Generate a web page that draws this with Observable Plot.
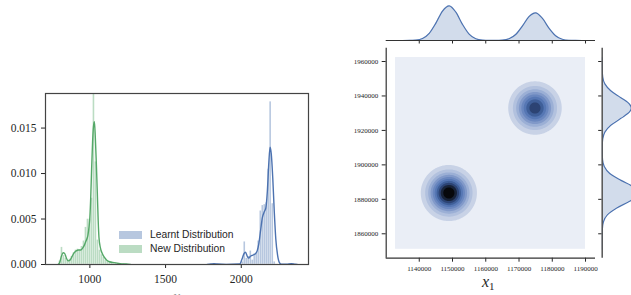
<!DOCTYPE html>
<html><head><meta charset="utf-8">
<script src="https://cdn.jsdelivr.net/npm/d3@7"></script>
<script src="https://cdn.jsdelivr.net/npm/@observablehq/plot@0.6"></script>
<style>
html,body{margin:0;padding:0;background:#fff;overflow:hidden;}
#root{position:relative;width:631px;height:295px;overflow:hidden;background:#fff;}
#root svg{position:absolute;top:0;left:0;overflow:visible;}
.sw{position:absolute;width:23px;height:8px;}
.lt{position:absolute;font-family:"Liberation Sans",sans-serif;font-size:10.3px;color:#262626;line-height:1;white-space:nowrap;}
.xlab{position:absolute;font-family:"Liberation Serif",serif;color:#262626;font-size:16px;line-height:1;white-space:nowrap;}
.xlab sub{font-size:11px;font-style:normal;vertical-align:-3px;}
</style></head>
<body><div id="root"></div>
<script>
// ---------- Left panel: histograms + KDE ----------
const leftXTicks = [1000, 1500, 2000];
const leftYTicks = [0, 0.005, 0.010, 0.015];
const binWidth = 13.2;

const newBinCenters = [802.6, 815.8, 829, 842.2, 855.4, 868.6, 881.8, 895, 908.2, 921.4, 934.6, 947.8, 961, 974.2, 987.4, 1000.6, 1013.8, 1027, 1040.2, 1053.4, 1066.6, 1079.8, 1093, 1106.2, 1119.4, 1132.6, 1145.8, 1159, 1172.2, 1185.4, 1198.6, 1211.8, 1225];
const newBinDensity = [0.0004, 0.0019, 0.0010, 0.0007, 0.0005, 0.0006, 0.0009, 0.0013, 0.0016, 0.0017, 0.0016, 0.0020, 0.0026, 0.0041, 0.0050, 0.0050, 0.0073, 0.0195, 0.0113, 0.0027, 0.0016, 0.0011, 0.0008, 0.0005, 0.0004, 0.0003, 0.0002, 0.0001, 0.0002, 0.0001, 0.0001, 0.0001, 0.0001];

const learntBinCenters = [1820, 1833, 2010, 2023, 2036, 2049, 2063, 2076, 2089, 2102, 2115, 2129, 2142, 2155, 2168, 2181, 2194, 2208, 2221, 2337];
const learntBinDensity = [0.0001, 0.0001, 0.0003, 0.0025, 0.0007, 0.0009, 0.0015, 0.0005, 0.0012, 0.0012, 0.0026, 0.0059, 0.0065, 0.0066, 0.0068, 0.0105, 0.0179, 0.0067, 0.0003, 0.0001];

const newKdeX = [790, 800, 812, 824, 834, 845, 857, 870, 883, 897, 910, 925, 940, 952, 963, 975, 987, 995, 1000, 1006, 1011, 1018, 1024, 1030, 1036, 1043, 1049, 1055, 1060, 1070, 1082, 1095, 1110, 1130, 1160, 1200, 1240, 1268];
const newKdeY = [0, 0.0002, 0.0009, 0.0013, 0.0012, 0.0007, 0.0004, 0.0005, 0.0009, 0.0013, 0.0015, 0.0016, 0.0016, 0.0018, 0.0021, 0.0026, 0.0032, 0.0042, 0.0052, 0.0075, 0.0102, 0.0135, 0.0152, 0.0157, 0.0140, 0.0110, 0.0080, 0.0048, 0.0030, 0.0018, 0.0012, 0.0008, 0.0005, 0.0003, 0.0002, 0.0001, 0.00005, 0];

const learntKdeX = [1775, 1800, 1820, 1840, 1900, 1990, 2005, 2018, 2028, 2040, 2050, 2060, 2072, 2085, 2095, 2105, 2116, 2128, 2140, 2152, 2162, 2172, 2182, 2190, 2198, 2208, 2218, 2228, 2240, 2252, 2265, 2300, 2330, 2355, 2370];
const learntKdeY = [0, 0.00005, 0.0001, 0.00005, 0, 0.00005, 0.0006, 0.0012, 0.00135, 0.0009, 0.0007, 0.0009, 0.0010, 0.0011, 0.0012, 0.0015, 0.0023, 0.0038, 0.0052, 0.0058, 0.0062, 0.0080, 0.0112, 0.0129, 0.0122, 0.0095, 0.0058, 0.0028, 0.0010, 0.0002, 0.00003, 0.00003, 0.0001, 0.00003, 0];

// ---------- Right panel: joint KDE ----------
const jointXTicks = [1140000, 1150000, 1160000, 1170000, 1180000, 1190000];
const jointYTicks = [1860000, 1880000, 1900000, 1920000, 1940000, 1960000];
const blobX = [1148900, 1174800];
const blobY = [1883660, 1933000];
const blobWeight = [1, 0.80];
const blobSigmaX = [3855, 3855];
const blobSigmaY = [7430, 7430];
const gridX = [1132870, 1190000];
const gridY = [1851000, 1962300];
const kdeLevels = [1/11, 2/11, 3/11, 4/11, 5/11, 6/11, 7/11, 8/11, 9/11, 10/11];
const kdeColors = ["#c8d2e6", "#b2c1de", "#9bafd5", "#8199c9", "#6a87bf", "#5677b4", "#3f5f99", "#2c4373", "#182338", "#07080b"];

const topMargX = [1133000, 1135000, 1137000, 1139000, 1141000, 1143000, 1145000, 1147000, 1149000, 1151000, 1153000, 1155000, 1157000, 1159000, 1161000, 1163000, 1165000, 1167000, 1169000, 1171000, 1173000, 1175000, 1177000, 1179000, 1181000, 1183000, 1185000, 1187000, 1189000, 1190000];
const topMargD = [0, 0.0002, 0.0016, 0.0115, 0.058, 0.205, 0.50, 0.848, 1.0, 0.818, 0.465, 0.184, 0.050, 0.010, 0.0014, 0.0014, 0.010, 0.050, 0.173, 0.414, 0.690, 0.799, 0.642, 0.358, 0.139, 0.037, 0.007, 0.0009, 0.0001, 0];

const rightMargY = [1851000, 1855000, 1859000, 1863000, 1867000, 1871000, 1875000, 1879000, 1883000, 1887000, 1891000, 1895000, 1899000, 1903000, 1907000, 1911000, 1915000, 1919000, 1923000, 1927000, 1931000, 1933000, 1935000, 1939000, 1943000, 1947000, 1951000, 1955000, 1959000, 1962300];
const rightMargD = [0, 0, 0.0006, 0.0055, 0.034, 0.141, 0.400, 0.767, 0.995, 0.873, 0.518, 0.208, 0.057, 0.0104, 0.0015, 0.0023, 0.0153, 0.073, 0.236, 0.515, 0.762, 0.80, 0.762, 0.515, 0.236, 0.073, 0.0153, 0.0022, 0.0002, 0];

// ---------- build ----------
const root = document.getElementById("root");
const ink = "#262626";
const blue = "#4c72b0", green = "#55a868";

const newBars = newBinCenters.map((c, i) => ({x1: c - binWidth / 2, x2: c + binWidth / 2, y: newBinDensity[i]}));
const learntBars = learntBinCenters.map((c, i) => ({x1: c - binWidth / 2, x2: c + binWidth / 2, y: learntBinDensity[i]}));
const newKde = newKdeX.map((x, i) => ({x, y: newKdeY[i]}));
const learntKde = learntKdeX.map((x, i) => ({x, y: learntKdeY[i]}));

const left = Plot.plot({
  width: 320, height: 295,
  marginLeft: 45, marginRight: 12, marginTop: 93, marginBottom: 31,
  style: {background: "transparent", fontFamily: "Liberation Serif, serif", fontSize: "11.5px", color: ink},
  x: {domain: [707, 2444], ticks: leftXTicks, tickSize: 4, tickPadding: 6, tickFormat: d => String(d), label: null},
  y: {domain: [0, 0.0188], ticks: leftYTicks, tickSize: 4, tickPadding: 5, tickFormat: d3.format(".3f"), label: null},
  marks: [
    Plot.rect(learntBars, {x1: "x1", x2: "x2", y1: 0, y2: "y", fill: blue, fillOpacity: 0.4, inset: 0.2, clip: true}),
    Plot.rect(newBars, {x1: "x1", x2: "x2", y1: 0, y2: "y", fill: green, fillOpacity: 0.4, inset: 0.2, clip: true}),
    Plot.line(learntKde, {x: "x", y: "y", stroke: blue, strokeWidth: 1.4, curve: "monotone-x", clip: true}),
    Plot.line(newKde, {x: "x", y: "y", stroke: green, strokeWidth: 1.4, curve: "monotone-x", clip: true}),
    Plot.frame({stroke: "#444", strokeWidth: 1.2})
  ]
});
root.appendChild(left);

const jx = [1130060, 1193000], jy = [1845830, 1967720];
// bivariate KDE surface from the two fitted components (centres, spreads, weights above)
const kde = (x, y) => d3.sum(blobX, (cx, i) => blobWeight[i] * Math.exp(
  -((x - cx) ** 2) / (2 * blobSigmaX[i] ** 2) - ((y - blobY[i]) ** 2) / (2 * blobSigmaY[i] ** 2)));

const main = Plot.plot({
  width: 631, height: 295,
  marginLeft: 385.7, marginRight: 36, marginTop: 47.7, marginBottom: 37.3,
  style: {background: "transparent", fontFamily: "Liberation Serif, serif", fontSize: "7px", color: ink},
  x: {domain: jx, ticks: jointXTicks, tickSize: 4, tickPadding: 4, tickFormat: d => String(d), label: null},
  y: {domain: jy, ticks: jointYTicks, tickSize: 4, tickPadding: 4, tickFormat: d => String(d), label: null},
  color: {type: "linear", domain: [kdeLevels[0], kdeLevels[kdeLevels.length - 1]], interpolate: d3.piecewise(d3.interpolateRgb, kdeColors)},
  marks: [
    Plot.rect([{x1: gridX[0], x2: gridX[1], y1: gridY[0], y2: gridY[1]}], {x1: "x1", x2: "x2", y1: "y1", y2: "y2", fill: "#eaeef6"}),
    Plot.contour({value: kde, x1: gridX[0], x2: gridX[1], y1: gridY[0], y2: gridY[1], thresholds: kdeLevels, fill: "value", stroke: "none", pixelSize: 1}),
    Plot.ruleX([jx[0]], {stroke: "#333", strokeWidth: 1.2}),
    Plot.ruleY([jy[0]], {stroke: "#333", strokeWidth: 1.2})
  ]
});
root.appendChild(main);

const topMarg = topMargX.map((x, i) => ({x, d: topMargD[i]}));
const topPlot = Plot.plot({
  width: 631, height: 50,
  marginLeft: 385.7, marginRight: 36, marginTop: 0, marginBottom: 10,
  style: {background: "transparent", color: ink},
  x: {domain: jx, ticks: jointXTicks, tickSize: 3.5, tickFormat: () => "", label: null},
  y: {domain: [0, 1.153], axis: null},
  marks: [
    Plot.areaY(topMarg, {x: "x", y: "d", fill: blue, fillOpacity: 0.25, curve: "monotone-x"}),
    Plot.lineY(topMarg, {x: "x", y: "d", stroke: blue, strokeWidth: 1.2, curve: "monotone-x"}),
    Plot.ruleY([0], {stroke: "#333", strokeWidth: 1.2})
  ]
});
root.appendChild(topPlot);

const rightMarg = rightMargY.map((y, i) => ({y, d: rightMargD[i]}));
const rightPlot = Plot.plot({
  width: 631, height: 295,
  marginLeft: 601.7, marginRight: 0, marginTop: 47.7, marginBottom: 37.3,
  style: {background: "transparent", color: ink},
  x: {domain: [0, 0.807], axis: null},
  y: {domain: jy, ticks: jointYTicks, tickSize: 3.5, tickFormat: () => "", label: null},
  marks: [
    Plot.areaX(rightMarg, {y: "y", x: "d", fill: blue, fillOpacity: 0.25, curve: "monotone-y", clip: true}),
    Plot.lineX(rightMarg, {y: "y", x: "d", stroke: blue, strokeWidth: 1.2, curve: "monotone-y", clip: true}),
    Plot.ruleX([0], {stroke: "#555", strokeWidth: 1.5})
  ]
});
root.appendChild(rightPlot);

// ---------- legend & labels (HTML) ----------
function add(html) { const d = document.createElement("div"); d.innerHTML = html; while (d.firstChild) root.appendChild(d.firstChild); }
add(`<div class="sw" style="left:119px;top:230.5px;background:#b7c7df"></div>
<div class="lt" style="left:150px;top:229.5px">Learnt Distribution</div>
<div class="sw" style="left:119px;top:245px;background:#bbdcc3"></div>
<div class="lt" style="left:150px;top:244px">New Distribution</div>
<div class="xlab" style="left:482px;top:274px"><i>x</i><sub>1</sub></div>
<div class="xlab" style="left:173px;top:289px;color:#999"><i>x</i></div>`);
</script>
</body></html>
